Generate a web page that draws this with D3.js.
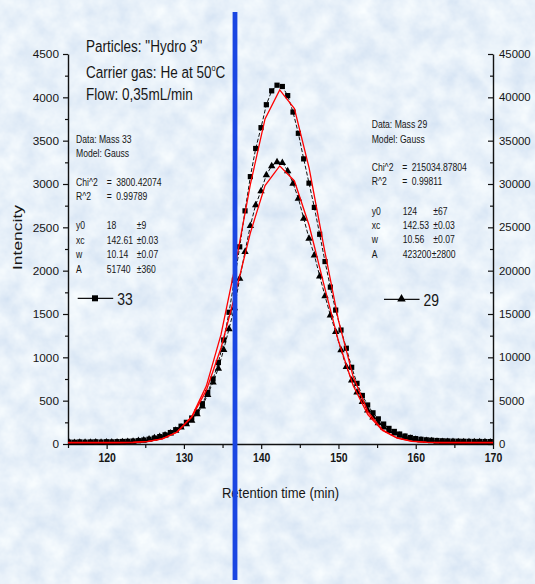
<!DOCTYPE html>
<html>
<head>
<meta charset="utf-8">
<script src="https://cdn.jsdelivr.net/npm/d3@7"></script>
<style>
  html, body { margin: 0; padding: 0; background: #d6e5f4; }
  svg { display: block; }
  text { font-family: "Liberation Sans", Arial, sans-serif; fill: #161616; }
</style>
</head>
<body>
<svg id="chart" width="535" height="584"></svg>
<script>
// Retention times (min) of the recorded scans
const retention = [
  115.14, 115.83, 116.52, 117.21, 117.90, 118.59, 119.28, 119.97, 120.66, 121.35,
  122.04, 122.73, 123.42, 124.11, 124.80, 125.49, 126.18, 126.87, 127.56, 128.25,
  128.94, 129.63, 130.32, 131.01, 131.70, 132.39, 133.08, 133.77, 134.46, 135.15,
  135.84, 136.53, 137.22, 137.91, 138.60, 139.29, 139.98, 140.67, 141.36, 142.05,
  142.74, 143.43, 144.12, 144.81, 145.50, 146.19, 146.88, 147.57, 148.26, 148.95,
  149.64, 150.33, 151.02, 151.71, 152.40, 153.09, 153.78, 154.47, 155.16, 155.85,
  156.54, 157.23, 157.92, 158.61, 159.30, 159.99, 160.68, 161.37, 162.06, 162.75,
  163.44, 164.13, 164.82, 165.51, 166.20, 166.89, 167.58, 168.27, 168.96, 169.65
];

// Mass 33 signal (left axis)
const mass33 = [
  22, 20, 24, 21, 23, 25, 22, 26, 24, 27,
  29, 31, 34, 38, 45, 55, 68, 85, 106, 132,
  165, 205, 250, 300, 370, 465, 595, 750, 940, 1200,
  1520, 1890, 2275, 2690, 3085, 3410, 3650, 3915, 4075, 4140,
  4125, 4020, 3830, 3585, 3290, 3010, 2730, 2420, 2105, 1810,
  1545, 1315, 1105, 885, 700, 560, 450, 360, 290, 230,
  180, 145, 115, 92, 75, 62, 54, 48, 44, 40,
  37, 35, 33, 32, 31, 30, 29, 29, 28, 28
];

// Mass 29 signal (right axis)
const mass29 = [
  190, 175, 200, 185, 195, 210, 190, 220, 205, 230,
  255, 280, 320, 380, 460, 570, 700, 850, 1040, 1260,
  1580, 1950, 2330, 2720, 3480, 4380, 5700, 7150, 8730, 10900,
  13300, 15700, 19100, 22200, 25200, 27600, 29200, 31050, 32080, 32570,
  32460, 31530, 30080, 28350, 26040, 23730, 21800, 19380, 17080, 14880,
  12960, 10850, 8920, 7380, 6000, 4900, 3900, 3100, 2450, 1950,
  1550, 1250, 1000, 800, 650, 540, 460, 400, 350, 320,
  290, 275, 265, 255, 250, 245, 240, 238, 235, 232
];

// Gauss fit parameters [y0, xc, w, A]
const fit33 = [18, 142.61, 10.14, 51740];
const fit29 = [124, 142.53, 10.56, 423200];

// Tick labels
const xTicks = [120, 130, 140, 150, 160, 170];
const xMinor = [115, 125, 135, 145, 155, 165];
const leftTicks = [0, 500, 1000, 1500, 2000, 2500, 3000, 3500, 4000, 4500];
const leftMinor = [250, 750, 1250, 1750, 2250, 2750, 3250, 3750, 4250];
const rightTicks = [0, 5000, 10000, 15000, 20000, 25000, 30000, 35000, 40000, 45000];
const rightMinor = [2500, 7500, 12500, 17500, 22500, 27500, 32500, 37500, 42500];

const svg = d3.select("#chart");
const W = 535, H = 584;
const plain = d3.format("d");

// marbled pale-blue backdrop
const defs = svg.append("defs");
const marble = defs.append("filter").attr("id", "marble")
  .attr("x", 0).attr("y", 0).attr("width", "100%").attr("height", "100%");
marble.append("feTurbulence").attr("type", "fractalNoise")
  .attr("baseFrequency", "0.045").attr("numOctaves", 4).attr("seed", 7).attr("result", "n");
marble.append("feColorMatrix").attr("in", "n").attr("type", "matrix")
  .attr("values", "0.34 0 0 0 0.64  0.26 0 0 0 0.75  0.12 0 0 0 0.89  0 0 0 0 1");
svg.append("rect").attr("width", W).attr("height", H).attr("filter", "url(#marble)");

defs.append("clipPath").attr("id", "plotClip")
  .append("rect").attr("x", 68).attr("y", 30).attr("width", 425).attr("height", 425);

const x = d3.scaleLinear().domain([115, 170]).range([68, 493]);
const yL = d3.scaleLinear().domain([0, 4500]).range([444, 54]);
const yR = d3.scaleLinear().domain([0, 45000]).range([444, 54]);

// axes
function styleAxis(g) {
  g.selectAll("path.domain").attr("stroke", "#111").attr("stroke-width", 1.4);
  g.selectAll(".tick line").attr("stroke", "#111").attr("stroke-width", 1.2);
}

const gx = svg.append("g").attr("transform", "translate(0,444)")
  .call(d3.axisBottom(x).tickValues(xTicks).tickFormat(plain).tickSize(5).tickSizeOuter(0).tickPadding(4));
gx.append("g").call(d3.axisBottom(x).tickValues(xMinor).tickSize(4).tickFormat(""))
  .select("path.domain").remove();
styleAxis(gx);
gx.selectAll(".tick text").attr("font-size", 12.5).attr("font-weight", "bold")
  .attr("fill", "#161616").attr("textLength", 17.5).attr("lengthAdjust", "spacingAndGlyphs")
  .attr("font-family", '"Liberation Sans", Arial, sans-serif');

const gl = svg.append("g").attr("transform", "translate(68,0)")
  .call(d3.axisLeft(yL).tickValues(leftTicks).tickFormat(plain).tickSize(5).tickSizeOuter(0).tickPadding(4));
gl.append("g").call(d3.axisLeft(yL).tickValues(leftMinor).tickSize(3).tickFormat(""))
  .select("path.domain").remove();
styleAxis(gl);
gl.selectAll(".tick text").attr("font-size", 11.8).attr("fill", "#161616")
  .attr("font-family", '"Liberation Sans", Arial, sans-serif');

const gr = svg.append("g").attr("transform", "translate(493,0)")
  .call(d3.axisRight(yR).tickValues(rightTicks).tickFormat(plain).tickSizeInner(-5).tickSizeOuter(0).tickPadding(6));
gr.append("g").call(d3.axisRight(yR).tickValues(rightMinor).tickSizeInner(-3).tickSizeOuter(0).tickFormat(""))
  .select("path.domain").remove();
styleAxis(gr);
gr.selectAll(".tick text").attr("font-size", 11.4).attr("fill", "#161616")
  .attr("font-family", '"Liberation Sans", Arial, sans-serif');

// horizontally condensed text helper
function label(px, py, str, size, sx, anchor) {
  return svg.append("text")
    .attr("transform", `translate(${px},${py}) scale(${sx},1)`)
    .attr("font-size", size)
    .attr("text-anchor", anchor || "start")
    .text(str);
}

label(280.5, 497.5, "Retention time (min)", 15.5, 0.84, "middle");
svg.append("text")
  .attr("transform", "translate(22,237.5) rotate(-90)")
  .attr("font-size", 13.5).attr("text-anchor", "middle")
  .attr("textLength", 65).attr("lengthAdjust", "spacingAndGlyphs")
  .text("Intencity");

// plot title lines
label(86, 52, "Particles: \"Hydro 3\"", 16.5, 0.82);
const carrier = label(86, 77.5, "Carrier gas: He at 50", 16.5, 0.82);
carrier.append("tspan").attr("font-size", 9).attr("dy", -7).text("o");
carrier.append("tspan").attr("dy", 7).text("C");
label(86, 99.5, "Flow: 0,35mL/min", 16.5, 0.82);

// fit report blocks
function report(x0, colV, colE, eqX, yTop, name, p, chi, r2, errs) {
  const s = 10.5, sx = 0.82;
  label(x0, yTop, "Data: " + name, s, sx);
  label(x0, yTop + 14.2, "Model: Gauss", s, sx);
  label(x0, yTop + 42.3, "Chi^2", s, sx);
  label(eqX, yTop + 42.3, "=", s, sx);
  label(eqX + 9.5, yTop + 42.3, chi, s, sx);
  label(x0, yTop + 56.5, "R^2", s, sx);
  label(eqX, yTop + 56.5, "=", s, sx);
  label(eqX + 9.5, yTop + 56.5, r2, s, sx);
  const names = ["y0", "xc", "w", "A"];
  names.forEach((n, i) => {
    const yy = yTop + 86.2 + i * 14.4;
    label(x0, yy, n, s, sx);
    label(colV, yy, String(p[i]), s, sx);
    label(i === 3 && errs[i].length > 3 ? colE - 1.6 : colE, yy, "\u00b1" + errs[i], s, sx);
  });
}
report(76, 106.7, 136.7, 106.7, 143.2, "Mass 33",
  [fit33[0], fit33[1].toFixed(2), fit33[2].toFixed(2), fit33[3]],
  "3800.42074", "0.99789", ["9", "0.03", "0.07", "360"]);
report(371.7, 402.7, 433.3, 402.3, 128.3, "Mass 29",
  [fit29[0], fit29[1].toFixed(2), fit29[2].toFixed(2), fit29[3]],
  "215034.87804", "0.99811", ["67", "0.03", "0.07", "2800"]);

// data series
const plot = svg.append("g").attr("clip-path", "url(#plotClip)");
const tri = "M0,-4.1L3.7,2.4L-3.7,2.4Z";

function series(values, y, symbol) {
  const pts = retention.map((t, i) => [t, values[i]]);
  plot.append("path")
    .attr("d", d3.line().x(d => x(d[0])).y(d => y(d[1]))(pts))
    .attr("fill", "none").attr("stroke", "#111").attr("stroke-width", 1)
    .attr("stroke-dasharray", "4,2");
  if (symbol === "square") {
    plot.append("g").selectAll("rect").data(pts).join("rect")
      .attr("x", d => x(d[0]) - 2.6).attr("y", d => y(d[1]) - 2.6)
      .attr("width", 5.2).attr("height", 5.2).attr("fill", "#000");
  } else {
    plot.append("g").selectAll("path").data(pts).join("path")
      .attr("transform", d => `translate(${x(d[0])},${y(d[1])})`)
      .attr("d", tri).attr("fill", "#000");
  }
}
series(mass29, yR, "triangle");
series(mass33, yL, "square");

// Gauss model curves from the reported parameters
function gauss(t, p) {
  const [y0, xc, w, A] = p;
  return y0 + A / (w * Math.sqrt(Math.PI / 2)) * Math.exp(-2 * Math.pow((t - xc) / w, 2));
}
const fitGrid = d3.range(113.9, 171.5, 1.9);
[[fit33, yL], [fit29, yR]].forEach(([p, y]) => {
  plot.append("path")
    .attr("d", d3.line().x(t => x(t)).y(t => y(gauss(t, p)))(fitGrid))
    .attr("fill", "none").attr("stroke", "#ff0000").attr("stroke-width", 1.3);
});

// legends
function legend(x0, yy, symbol, str) {
  svg.append("line").attr("x1", x0).attr("x2", x0 + 35.5).attr("y1", yy).attr("y2", yy)
    .attr("stroke", "#111").attr("stroke-width", 1.2);
  if (symbol === "square") {
    svg.append("rect").attr("x", x0 + 17.3 - 3).attr("y", yy - 3).attr("width", 6).attr("height", 6).attr("fill", "#000");
  } else {
    svg.append("path").attr("transform", `translate(${x0 + 17.5},${yy - 0.5}) scale(1.15)`).attr("d", tri).attr("fill", "#000");
  }
  label(x0 + 39.5, yy + 6.8, str, 17, 0.82);
}
legend(77.7, 298.3, "square", "33");
legend(384, 299.3, "triangle", "29");

// vertical marker line
svg.append("rect").attr("x", 232.6).attr("y", 12).attr("width", 4.8).attr("height", 568)
  .attr("fill", "#1a46e2");
</script>
</body>
</html>
